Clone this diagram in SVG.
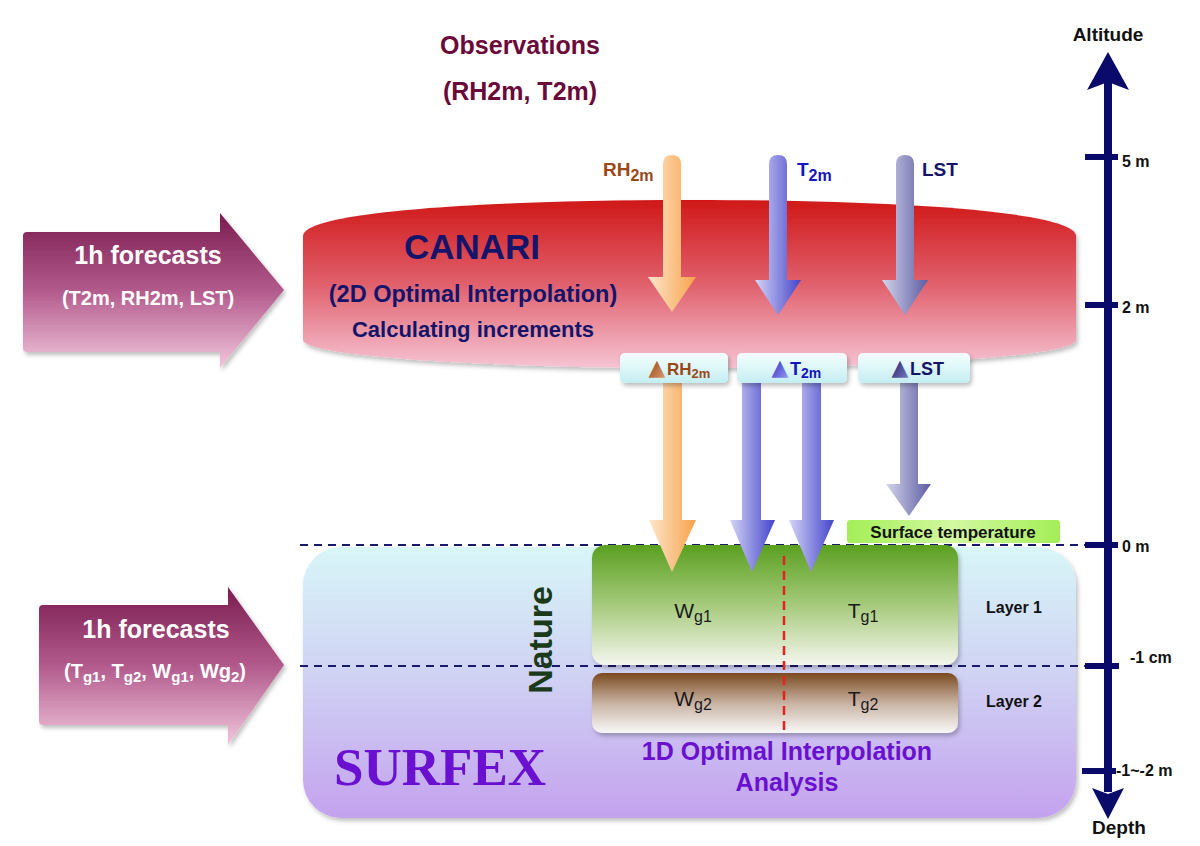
<svg xmlns="http://www.w3.org/2000/svg" width="1200" height="846" viewBox="0 0 1200 846">
<defs>
<style>
text{font-family:"Liberation Sans",Arial,sans-serif;font-weight:bold}
.fc{fill:#ffffff;text-anchor:middle}
.can{fill:#14146a;text-anchor:middle}
.obs{fill:#6a0a3a;text-anchor:middle;font-size:25px}
.ax{fill:#111;font-size:16px}
.axt{fill:#111;font-size:19px;text-anchor:middle}
.lay{fill:#111;font-size:16px;text-anchor:middle}
.w{font-weight:normal;fill:#1a1a1a;font-size:21px;text-anchor:middle}
.oi{fill:#6a10d0;font-size:25px;text-anchor:middle}
.dash{stroke:#1a1a6a;stroke-width:2;stroke-dasharray:8 6;fill:none}
.tick{fill:#0a0a6a}
.tri{font-family:"DejaVu Sans",sans-serif;font-size:22px;text-anchor:middle}
</style>
<linearGradient id="canGrad" x1="0" y1="0" x2="0" y2="1">
<stop offset="0" stop-color="#d01818"/><stop offset="0.5" stop-color="#e0606c"/><stop offset="1" stop-color="#f6c4d4"/>
</linearGradient>
<linearGradient id="fcGrad" x1="0" y1="0" x2="0" y2="1">
<stop offset="0" stop-color="#7a1c50"/><stop offset="0.5" stop-color="#b25a8c"/><stop offset="1" stop-color="#f2c6dc"/>
</linearGradient>
<linearGradient id="sfGrad" x1="0" y1="0" x2="0" y2="1">
<stop offset="0" stop-color="#d8f6f8"/><stop offset="0.45" stop-color="#d0d4f4"/><stop offset="1" stop-color="#c4a2ee"/>
</linearGradient>
<linearGradient id="greenGrad" x1="0" y1="0" x2="0" y2="1">
<stop offset="0" stop-color="#5aa020"/><stop offset="0.5" stop-color="#a6ca7c"/><stop offset="1" stop-color="#f4f6ee"/>
</linearGradient>
<linearGradient id="brownGrad" x1="0" y1="0" x2="0" y2="1">
<stop offset="0" stop-color="#7a4a1e"/><stop offset="0.5" stop-color="#c8b2a2"/><stop offset="1" stop-color="#f8f8f8"/>
</linearGradient>
<linearGradient id="stGrad" x1="0" y1="0" x2="1" y2="0">
<stop offset="0" stop-color="#a4ee58"/><stop offset="0.5" stop-color="#d2f8a0"/><stop offset="1" stop-color="#a4ee58"/>
</linearGradient>
<linearGradient id="dGrad" x1="0" y1="0" x2="0" y2="1">
<stop offset="0" stop-color="#f6fefe"/><stop offset="1" stop-color="#c4eef2"/>
</linearGradient>
<linearGradient id="orGrad" x1="0" y1="0" x2="1" y2="0">
<stop offset="0" stop-color="#fde6cc"/><stop offset="1" stop-color="#f7a24a"/>
</linearGradient>
<linearGradient id="blGrad" x1="0" y1="0" x2="1" y2="0">
<stop offset="0" stop-color="#d4d4f6"/><stop offset="1" stop-color="#4444cc"/>
</linearGradient>
<linearGradient id="lsGrad" x1="0" y1="0" x2="1" y2="0">
<stop offset="0" stop-color="#d4d4ea"/><stop offset="1" stop-color="#5c5ca4"/>
</linearGradient>
<linearGradient id="triBr" x1="0" y1="0" x2="1" y2="1">
<stop offset="0" stop-color="#8a3a10"/><stop offset="1" stop-color="#e0a070"/>
</linearGradient>
<linearGradient id="triBl" x1="0" y1="0" x2="1" y2="1">
<stop offset="0" stop-color="#2020c0"/><stop offset="1" stop-color="#a0a0f0"/>
</linearGradient>
<linearGradient id="triNv" x1="0" y1="0" x2="1" y2="1">
<stop offset="0" stop-color="#14146a"/><stop offset="1" stop-color="#8080c0"/>
</linearGradient>
<filter id="sh" x="-10%" y="-10%" width="125%" height="140%">
<feDropShadow dx="2" dy="3" stdDeviation="2" flood-color="#000" flood-opacity="0.25"/>
</filter>
</defs>

<!-- SURFEX container -->
<g id="surfex">
<rect x="303" y="547" width="773" height="271" rx="38" fill="url(#sfGrad)" filter="url(#sh)"/>
<text x="440" y="785" style="font-family:'Liberation Serif','Times New Roman',serif" font-size="53" fill="#6a10d0" text-anchor="middle">SURFEX</text>
<text class="oi" x="787" y="760">1D Optimal Interpolation</text>
<text class="oi" x="787" y="791">Analysis</text>
</g>

<!-- dashed reference lines -->
<g id="levels">
<line class="dash" x1="300" y1="545" x2="1085" y2="545"/>
<line class="dash" x1="300" y1="666" x2="1085" y2="666"/>
</g>

<g id="layer1">
<rect x="592" y="545" width="366" height="120" rx="13" fill="url(#greenGrad)" filter="url(#sh)"/>
<text class="w" x="693" y="618">W<tspan font-size="16" dy="4">g1</tspan></text>
<text class="w" x="863" y="618">T<tspan font-size="16" dy="4">g1</tspan></text>
<text class="lay" x="1014" y="613">Layer 1</text>
</g>
<g id="layer2">
<rect x="592" y="673" width="366" height="60" rx="10" fill="url(#brownGrad)" filter="url(#sh)"/>
<text class="w" x="693" y="706">W<tspan font-size="16" dy="4">g2</tspan></text>
<text class="w" x="863" y="706">T<tspan font-size="16" dy="4">g2</tspan></text>
<text class="lay" x="1014" y="707">Layer 2</text>
</g>
<line x1="784" y1="556" x2="784" y2="733" stroke="#e82020" stroke-width="2.5" stroke-dasharray="9 6"/>
<text id="nature" x="0" y="0" transform="translate(552,640) rotate(-90)" font-size="34" fill="#1a3a1a" text-anchor="middle">Nature</text>

<!-- CANARI -->
<g id="canari">
<path d="M303,236 C303,212 480,200 690,200 C900,200 1076,212 1076,236 L1076,340 C1076,356 900,368 690,368 C480,368 303,356 303,340 Z" fill="url(#canGrad)" filter="url(#sh)"/>
<text class="can" x="472" y="259" font-size="35">CANARI</text>
<text class="can" x="473" y="302" font-size="23.5">(2D Optimal Interpolation)</text>
<text class="can" x="473" y="337" font-size="22">Calculating increments</text>
</g>

<!-- forecasts arrows -->
<g id="fc1">
<path d="M27,232 L220,232 L220,213 L284,290 L220,368 L220,352 L27,352 Q23,352 23,348 L23,236 Q23,232 27,232 Z" fill="url(#fcGrad)" filter="url(#sh)"/>
<text class="fc" x="148" y="264" font-size="25">1h forecasts</text>
<text class="fc" x="148" y="305" font-size="20">(T2m, RH2m, LST)</text>
</g>
<g id="fc2">
<path d="M43,605 L228,605 L228,587 L284,665 L228,745 L228,725 L43,725 Q39,725 39,721 L39,609 Q39,605 43,605 Z" fill="url(#fcGrad)" filter="url(#sh)"/>
<text class="fc" x="156" y="638" font-size="25">1h forecasts</text>
<text class="fc" x="155" y="678" font-size="20">(T<tspan font-size="15" dy="4">g1</tspan><tspan dy="-4">, T</tspan><tspan font-size="15" dy="4">g2</tspan><tspan dy="-4">, W</tspan><tspan font-size="15" dy="4">g1</tspan><tspan dy="-4">, Wg</tspan><tspan font-size="15" dy="4">2</tspan><tspan dy="-4">)</tspan></text>
</g>

<!-- Observations -->
<g id="observations">
<text class="obs" x="520" y="54">Observations</text>
<text class="obs" x="520" y="100">(RH2m, T2m)</text>
</g>

<!-- observation labels -->
<text x="603" y="176" font-size="19" fill="#9a4818">RH<tspan font-size="16" dy="5">2m</tspan></text>
<text x="797" y="176" font-size="19" fill="#1414c0">T<tspan font-size="16" dy="5">2m</tspan></text>
<text x="922" y="176" font-size="19" fill="#14146a">LST</text>

<!-- connectors -->
<g id="connectors">
<path d="M663,164 Q663,155 672,155 Q681,155 681,164 L681,277 L696,277 L672,312 L648,277 L663,277 Z" fill="url(#orGrad)"/>
<path d="M769,164 Q769,155 778,155 Q787,155 787,164 L787,280 L801,280 L778,315 L755,280 L769,280 Z" fill="url(#blGrad)"/>
<path d="M896,164 Q896,155 905,155 Q914,155 914,164 L914,280 L928,280 L905,315 L882,280 L896,280 Z" fill="url(#lsGrad)"/>

<path d="M663,383 L682,383 L682,520 L696,520 L672,572 L649,520 L663,520 Z" fill="url(#orGrad)"/>
<path d="M742,383 L761,383 L761,520 L775,520 L752,572 L730,520 L742,520 Z" fill="url(#blGrad)"/>
<path d="M802,383 L821,383 L821,520 L834,520 L811,572 L789,520 L802,520 Z" fill="url(#blGrad)"/>
<path d="M900,383 L918,383 L918,484 L931,484 L909,516 L886,484 L900,484 Z" fill="url(#lsGrad)"/>
</g>

<!-- delta boxes -->
<g id="dRH2m">
<rect x="620" y="353" width="108" height="30" rx="5" fill="url(#dGrad)" filter="url(#sh)"/>
<text class="tri" x="657" y="375" fill="url(#triBr)">▲</text>
<text x="667" y="375" font-size="17" fill="#9a4818">RH<tspan font-size="13" dy="3">2m</tspan></text>
</g>
<g id="dT2m">
<rect x="737" y="353" width="110" height="30" rx="5" fill="url(#dGrad)" filter="url(#sh)"/>
<text class="tri" x="780" y="375" fill="url(#triBl)">▲</text>
<text x="790" y="375" font-size="18" fill="#1414c0">T<tspan font-size="14" dy="3">2m</tspan></text>
</g>
<g id="dLST">
<rect x="858" y="353" width="112" height="30" rx="5" fill="url(#dGrad)" filter="url(#sh)"/>
<text class="tri" x="900" y="375" fill="url(#triNv)">▲</text>
<text x="910" y="375" font-size="18" fill="#14146a">LST</text>
</g>

<g id="surface-temperature">
<rect x="847" y="520" width="213" height="23" rx="3" fill="url(#stGrad)"/>
<text x="953" y="538" font-size="17" fill="#111" text-anchor="middle">Surface temperature</text>
</g>

<!-- axis -->
<g id="axis">
<rect class="tick" x="1104" y="80" width="8" height="712"/>
<path class="tick" d="M1108,52 L1129,90 L1108,82 L1087,90 Z"/>
<path class="tick" d="M1108,819 L1124,788 L1108,794 L1092,788 Z"/>
<rect class="tick" x="1085" y="154" width="33" height="6"/>
<rect class="tick" x="1085" y="302" width="33" height="6"/>
<rect class="tick" x="1085" y="542" width="33" height="6"/>
<rect class="tick" x="1085" y="663" width="34" height="6"/>
<rect class="tick" x="1082" y="768" width="34" height="6"/>
<text class="axt" x="1108" y="41">Altitude</text>
<text class="axt" x="1119" y="834">Depth</text>
<text class="ax" x="1122" y="167">5 m</text>
<text class="ax" x="1122" y="313">2 m</text>
<text class="ax" x="1122" y="552">0 m</text>
<text class="ax" x="1130" y="663">-1 cm</text>
<text class="ax" x="1116" y="776">-1~-2 m</text>
</g>
</svg>
